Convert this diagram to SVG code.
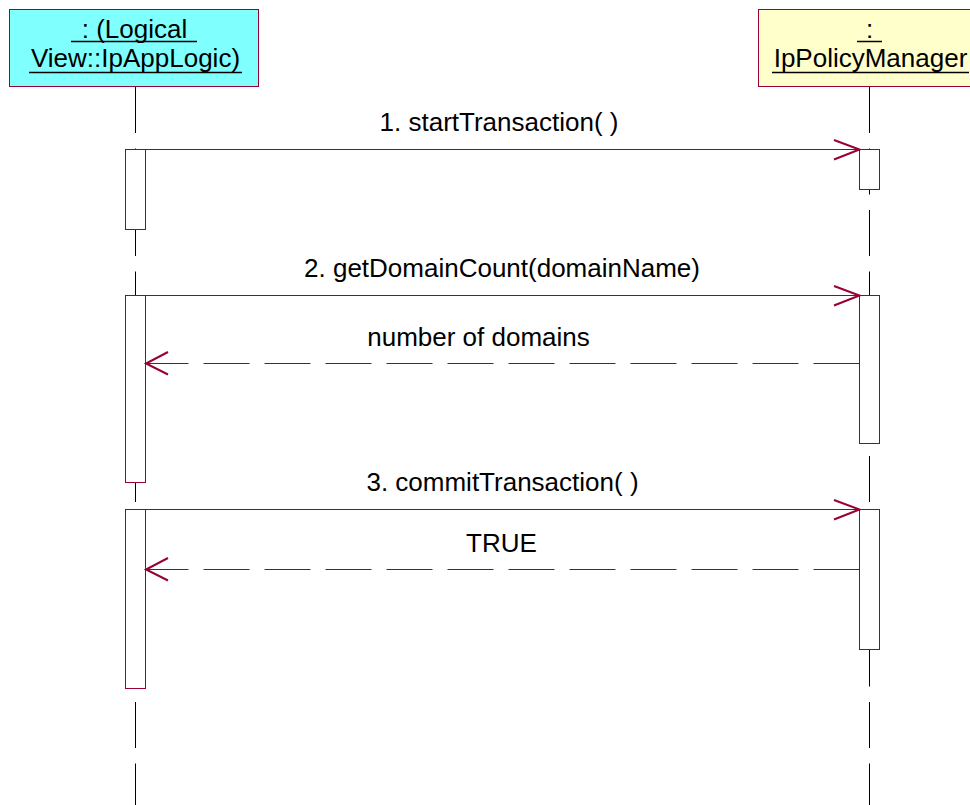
<svg xmlns="http://www.w3.org/2000/svg" width="970" height="805" viewBox="0 0 970 805">
<style>
.lbl{font-family:"Liberation Sans",Arial,sans-serif;font-size:26px;fill:#000;text-anchor:middle}
.obj{stroke:#990033;stroke-width:1}
.life{stroke:#000;stroke-width:1;stroke-dasharray:46 15.5;fill:none}
.act{fill:#fff;stroke:#990033;stroke-width:1}
.msg{stroke:#990033;stroke-width:1;fill:none}
.ret{stroke:#990033;stroke-width:1;fill:none;stroke-dasharray:46 15}
.head{stroke:#990033;stroke-width:2;fill:none}
.ul{stroke:#000;stroke-width:1.5}
</style>
<rect width="970" height="805" fill="#fff"/>
<g id="lifelines">
<line class="life" x1="135.5" y1="87" x2="135.5" y2="805"/>
<line class="life" x1="869.5" y1="87" x2="869.5" y2="805"/>
</g>
<g id="appLogic">
<rect class="obj" x="9.5" y="9.5" width="249" height="77" fill="#80FFFF"/>
<text class="lbl" x="134.5" y="38" xml:space="preserve"> : (Logical </text>
<line class="ul" x1="71" y1="41.5" x2="197" y2="41.5"/>
<text class="lbl" x="135.5" y="67">View::IpAppLogic)</text>
<line class="ul" x1="29" y1="72.5" x2="242" y2="72.5"/>
</g>
<g id="policyManager">
<rect class="obj" x="758.5" y="9.5" width="230" height="77" fill="#FFFFCC"/>
<text class="lbl" x="869.5" y="38">:</text>
<line class="ul" x1="857" y1="41.5" x2="882" y2="41.5"/>
<text class="lbl" x="870.5" y="67">IpPolicyManager</text>
<line class="ul" x1="772" y1="72.5" x2="969" y2="72.5"/>
</g>
<g id="activations">
<rect class="act" x="125.5" y="149.5" width="20" height="80"/>
<rect class="act" x="859.5" y="149.5" width="20" height="40"/>
<rect class="act" x="125.5" y="295.5" width="20" height="187"/>
<rect class="act" x="859.5" y="295.5" width="20" height="148"/>
<rect class="act" x="125.5" y="509.5" width="20" height="179"/>
<rect class="act" x="859.5" y="509.5" width="20" height="140"/>
</g>
<g id="connectors">
<line class="msg" x1="145.5" y1="149.5" x2="859.5" y2="149.5"/>
<polyline class="head" points="834,140 859.5,149.5 834,159.5"/>
<line class="msg" x1="145.5" y1="295.5" x2="859.5" y2="295.5"/>
<polyline class="head" points="834,286 859.5,295.5 834,305.5"/>
<line class="ret" x1="859.5" y1="363.5" x2="145.5" y2="363.5"/>
<polyline class="head" points="168,352 146,363.5 168,374.5"/>
<line class="msg" x1="145.5" y1="509.5" x2="859.5" y2="509.5"/>
<polyline class="head" points="834,500 859.5,509.5 834,519.5"/>
<line class="ret" x1="859.5" y1="569.5" x2="145.5" y2="569.5"/>
<polyline class="head" points="168,558 146,569.5 168,580.5"/>
</g>
<g id="labels">
<text class="lbl" x="499" y="131">1. startTransaction( )</text>
<text class="lbl" x="502" y="277">2. getDomainCount(domainName)</text>
<text class="lbl" x="478.5" y="346">number of domains</text>
<text class="lbl" x="502.5" y="491">3. commitTransaction( )</text>
<text class="lbl" x="501.5" y="552">TRUE</text>
</g>
</svg>
